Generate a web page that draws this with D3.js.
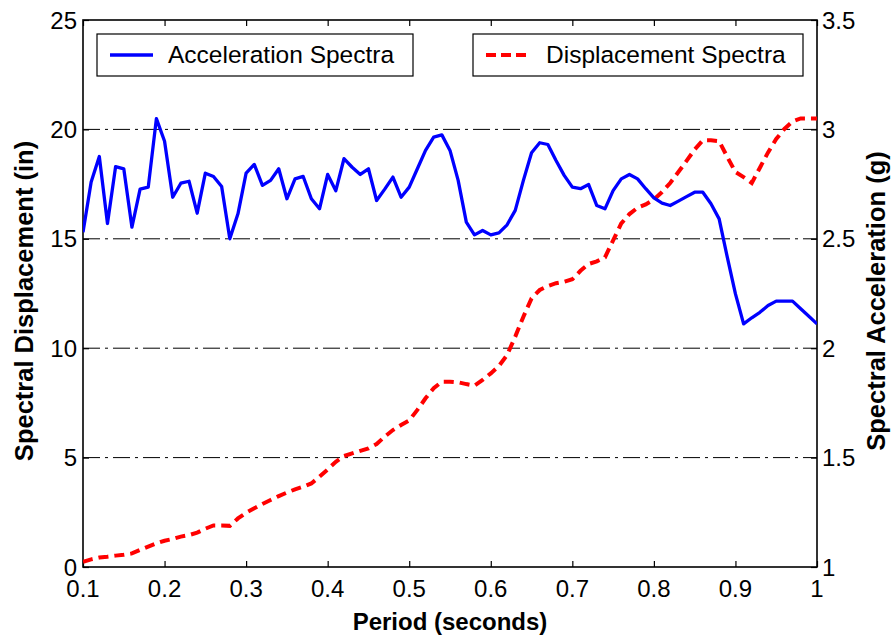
<!DOCTYPE html>
<html>
<head>
<meta charset="utf-8">
<script src="https://cdn.jsdelivr.net/npm/d3@7"></script>
<style>
  html, body { margin: 0; padding: 0; background: #fff; }
  svg { display: block; font-family: "Liberation Sans", Arial, sans-serif; }
</style>
</head>
<body>
<svg id="chart" width="891" height="642"></svg>
<script>
// Period (s)
const period = [
  0.10, 0.11, 0.12, 0.13, 0.14, 0.15, 0.16, 0.17, 0.18, 0.19,
  0.20, 0.21, 0.22, 0.23, 0.24, 0.25, 0.26, 0.27, 0.28, 0.29,
  0.30, 0.31, 0.32, 0.33, 0.34, 0.35, 0.36, 0.37, 0.38, 0.39,
  0.40, 0.41, 0.42, 0.43, 0.44, 0.45, 0.46, 0.47, 0.48, 0.49,
  0.50, 0.51, 0.52, 0.53, 0.54, 0.55, 0.56, 0.57, 0.58, 0.59,
  0.60, 0.61, 0.62, 0.63, 0.64, 0.65, 0.66, 0.67, 0.68, 0.69,
  0.70, 0.71, 0.72, 0.73, 0.74, 0.75, 0.76, 0.77, 0.78, 0.79,
  0.80, 0.81, 0.82, 0.83, 0.84, 0.85, 0.86, 0.87, 0.88, 0.89,
  0.90, 0.91, 0.92, 0.93, 0.94, 0.95, 0.96, 0.97, 0.98, 0.99,
  1.00
];

// Spectral acceleration (g), right axis
const acceleration = [
  2.530, 2.760, 2.876, 2.570, 2.830, 2.820, 2.553, 2.727, 2.736, 3.049,
  2.946, 2.690, 2.754, 2.763, 2.617, 2.800, 2.785, 2.739, 2.500, 2.614,
  2.800, 2.840, 2.744, 2.767, 2.820, 2.683, 2.774, 2.785, 2.683, 2.637,
  2.794, 2.720, 2.866, 2.827, 2.794, 2.820, 2.675, 2.727, 2.782, 2.690,
  2.736, 2.820, 2.904, 2.965, 2.975, 2.904, 2.767, 2.576, 2.518, 2.538,
  2.518, 2.527, 2.564, 2.630, 2.767, 2.893, 2.939, 2.931, 2.858, 2.790,
  2.736, 2.729, 2.748, 2.652, 2.637, 2.720, 2.774, 2.794, 2.774, 2.729,
  2.687, 2.663, 2.652, 2.672, 2.693, 2.713, 2.713, 2.660, 2.591, 2.416,
  2.248, 2.111, 2.139, 2.164, 2.195, 2.215, 2.215, 2.215, 2.180, 2.146,
  2.111
];

// Spectral displacement (in), left axis
const displacement = [
  0.24, 0.35, 0.43, 0.47, 0.52, 0.56, 0.62, 0.78, 0.93, 1.08,
  1.20, 1.28, 1.39, 1.46, 1.57, 1.75, 1.90, 1.90, 1.88, 2.22,
  2.48, 2.68, 2.88, 3.06, 3.24, 3.40, 3.55, 3.67, 3.82, 4.13,
  4.46, 4.81, 5.07, 5.19, 5.31, 5.42, 5.62, 5.96, 6.26, 6.49,
  6.70, 7.18, 7.71, 8.17, 8.47, 8.47, 8.44, 8.36, 8.29, 8.55,
  8.85, 9.19, 9.69, 10.53, 11.44, 12.28, 12.66, 12.84, 12.97, 13.04,
  13.15, 13.54, 13.85, 13.97, 14.15, 14.93, 15.70, 16.13, 16.42, 16.57,
  16.80, 17.14, 17.55, 18.05, 18.56, 19.08, 19.50, 19.50, 19.46, 18.74,
  18.05, 17.82, 17.55, 18.25, 18.95, 19.56, 20.02, 20.36, 20.50, 20.50,
  20.50
];

const xTicks = [0.1, 0.2, 0.3, 0.4, 0.5, 0.6, 0.7, 0.8, 0.9, 1];
const xTickLabels = ["0.1", "0.2", "0.3", "0.4", "0.5", "0.6", "0.7", "0.8", "0.9", "1"];
const leftTicks = [0, 5, 10, 15, 20, 25];
const leftTickLabels = ["0", "5", "10", "15", "20", "25"];
const rightTicks = [1, 1.5, 2, 2.5, 3, 3.5];
const rightTickLabels = ["1", "1.5", "2", "2.5", "3", "3.5"];
const gridValues = [5, 10, 15, 20];

const seriesNames = ["Acceleration Spectra", "Displacement Spectra"];
const xTitle = "Period (seconds)";
const leftTitle = "Spectral Displacement (in)";
const rightTitle = "Spectral Acceleration (g)";

const svg = d3.select("#chart");
const m = { left: 83, right: 817, top: 20, bottom: 567 };

const x = d3.scaleLinear().domain([0.1, 1]).range([m.left, m.right]);
const yL = d3.scaleLinear().domain([0, 25]).range([m.bottom, m.top]);
const yR = d3.scaleLinear().domain([1, 3.5]).range([m.bottom, m.top]);

svg.append("defs").append("clipPath").attr("id", "plotClip")
  .append("rect")
  .attr("x", m.left).attr("y", m.top)
  .attr("width", m.right - m.left).attr("height", m.bottom - m.top);

// horizontal dash-dot grid
svg.append("g").selectAll("line").data(gridValues).join("line")
  .attr("x1", m.left).attr("x2", m.right)
  .attr("y1", d => yL(d)).attr("y2", d => yL(d))
  .attr("stroke", "#000").attr("stroke-width", 1)
  .attr("stroke-dasharray", "17,5,3,5");

// axes with inward ticks, labels drawn separately
const tickLen = 6;
const bottomAxis = d3.axisBottom(x).tickValues(xTicks).tickSize(-tickLen).tickFormat("");
const topAxis = d3.axisTop(x).tickValues(xTicks).tickSize(-tickLen).tickFormat("");
const leftAxis = d3.axisLeft(yL).tickValues(leftTicks).tickSize(-tickLen).tickFormat("");
const rightAxis = d3.axisRight(yR).tickValues(rightTicks).tickSize(-tickLen).tickFormat("");

function styleAxis(g) {
  g.select(".domain").remove();
  g.selectAll(".tick line").attr("stroke", "#000").attr("stroke-width", 1.2);
}
svg.append("g").attr("transform", `translate(0,${m.bottom})`).call(bottomAxis).call(styleAxis);
svg.append("g").attr("transform", `translate(0,${m.top})`).call(topAxis).call(styleAxis);
svg.append("g").attr("transform", `translate(${m.left},0)`).call(leftAxis).call(styleAxis);
svg.append("g").attr("transform", `translate(${m.right},0)`).call(rightAxis).call(styleAxis);

// frame
svg.append("rect")
  .attr("x", m.left).attr("y", m.top)
  .attr("width", m.right - m.left).attr("height", m.bottom - m.top)
  .attr("fill", "none").attr("stroke", "#000").attr("stroke-width", 1.6);

// tick labels
const tickFont = 24;
svg.append("g").selectAll("text").data(xTicks).join("text")
  .attr("x", d => x(d)).attr("y", 597)
  .attr("text-anchor", "middle").attr("font-size", tickFont)
  .text((d, i) => xTickLabels[i]);
svg.append("g").selectAll("text").data(leftTicks).join("text")
  .attr("x", 77).attr("y", d => yL(d) + 8.6)
  .attr("text-anchor", "end").attr("font-size", tickFont)
  .text((d, i) => leftTickLabels[i]);
svg.append("g").selectAll("text").data(rightTicks).join("text")
  .attr("x", 822).attr("y", d => yR(d) + 8.6)
  .attr("text-anchor", "start").attr("font-size", tickFont)
  .text((d, i) => rightTickLabels[i]);

// axis titles
svg.append("text")
  .attr("x", 450).attr("y", 630)
  .attr("text-anchor", "middle").attr("font-size", 24).attr("font-weight", "bold")
  .text(xTitle);
svg.append("text")
  .attr("transform", "translate(33,301) rotate(-90)")
  .attr("text-anchor", "middle").attr("font-size", 25.5).attr("font-weight", "bold")
  .text(leftTitle);
svg.append("text")
  .attr("transform", "translate(885,301) rotate(-90)")
  .attr("text-anchor", "middle").attr("font-size", 25.5).attr("font-weight", "bold")
  .text(rightTitle);

// series
const plot = svg.append("g").attr("clip-path", "url(#plotClip)");

const accLine = d3.line()
  .x((d, i) => x(period[i]))
  .y(d => yR(d));
const dispLine = d3.line()
  .x((d, i) => x(period[i]))
  .y(d => yL(d));

plot.append("path").datum(displacement)
  .attr("d", dispLine)
  .attr("fill", "none").attr("stroke", "#ff0000").attr("stroke-width", 4)
  .attr("stroke-dasharray", "10,6");

plot.append("path").datum(acceleration)
  .attr("d", accLine)
  .attr("fill", "none").attr("stroke", "#0000ff").attr("stroke-width", 3.3)
  .attr("stroke-linejoin", "round");

// legends (two separate boxes)
const legends = [
  { box: [97, 34, 413, 76], name: seriesNames[0], color: "#0000ff", dash: null, width: 3.3, line: [110, 153], textX: 168 },
  { box: [473, 34, 803, 76], name: seriesNames[1], color: "#ff0000", dash: "10,5", width: 4, line: [486, 528], textX: 546 }
];
const lg = svg.append("g");
legends.forEach(l => {
  const g = lg.append("g");
  g.append("rect")
    .attr("x", l.box[0]).attr("y", l.box[1])
    .attr("width", l.box[2] - l.box[0]).attr("height", l.box[3] - l.box[1])
    .attr("fill", "#fff").attr("stroke", "#000").attr("stroke-width", 1.2);
  g.append("line")
    .attr("x1", l.line[0]).attr("x2", l.line[1])
    .attr("y1", 55).attr("y2", 55)
    .attr("stroke", l.color).attr("stroke-width", l.width)
    .attr("stroke-dasharray", l.dash);
  g.append("text")
    .attr("x", l.textX).attr("y", 63)
    .attr("font-size", 24.5)
    .text(l.name);
});
</script>
</body>
</html>
